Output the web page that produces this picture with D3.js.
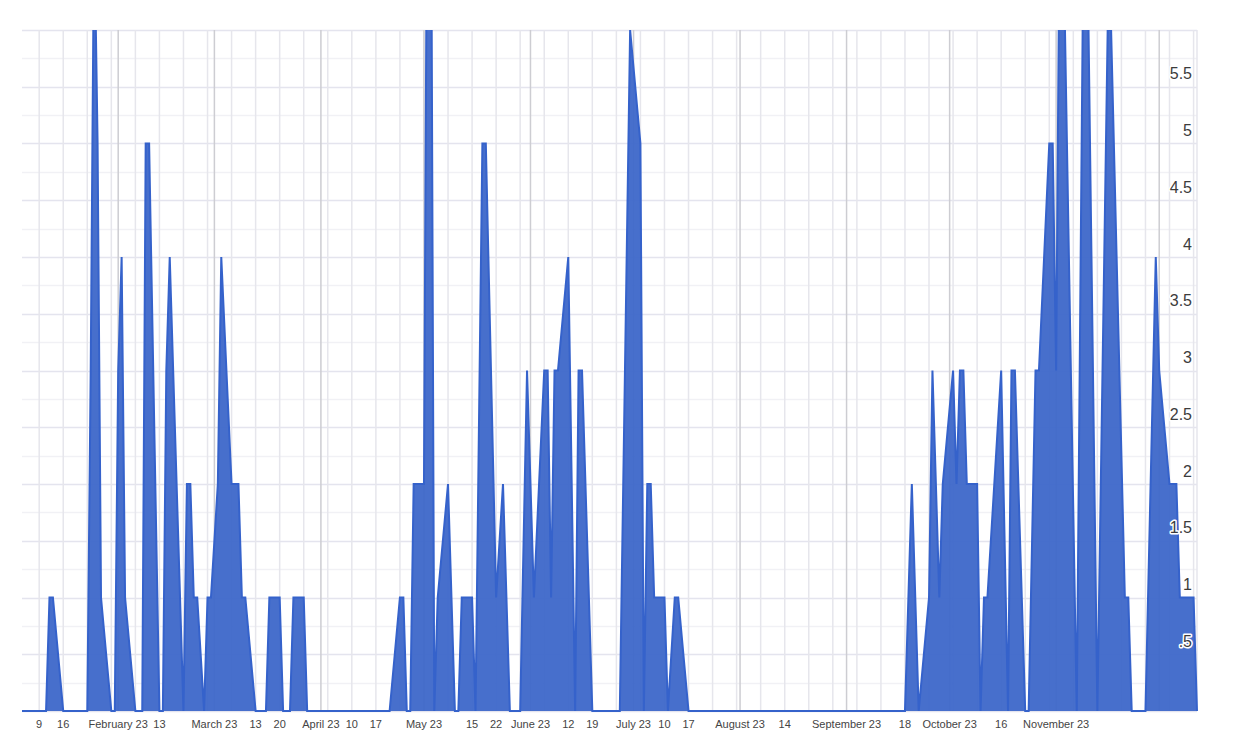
<!DOCTYPE html>
<html>
<head>
<meta charset="utf-8">
<script src="https://cdn.jsdelivr.net/npm/d3@7/dist/d3.min.js"></script>
<style>
  html, body { margin: 0; padding: 0; background: #fff; }
  svg { display: block; font-family: Arial, "Liberation Sans", sans-serif; }
</style>
</head>
<body>
<svg id="chart" width="1236" height="754"></svg>
<script>
// ---- data ----
const dates = [
  "2023-01-04","2023-01-11","2023-01-12","2023-01-13","2023-01-16","2023-01-23","2023-01-24","2023-01-25","2023-01-26","2023-01-27",
  "2023-01-30","2023-01-31","2023-02-01","2023-02-02","2023-02-03","2023-02-06","2023-02-08","2023-02-09","2023-02-10","2023-02-13",
  "2023-02-14","2023-02-15","2023-02-16","2023-02-20","2023-02-21","2023-02-22","2023-02-23","2023-02-24","2023-02-26","2023-02-27",
  "2023-02-28","2023-03-02","2023-03-03","2023-03-06","2023-03-07","2023-03-08","2023-03-09","2023-03-10","2023-03-13","2023-03-16",
  "2023-03-17","2023-03-20","2023-03-21","2023-03-23","2023-03-24","2023-03-27","2023-03-28","2023-04-21","2023-04-24","2023-04-25",
  "2023-04-26","2023-04-27","2023-04-28","2023-05-01","2023-05-02","2023-05-03","2023-05-04","2023-05-05","2023-05-08","2023-05-10",
  "2023-05-11","2023-05-12","2023-05-15","2023-05-16","2023-05-18","2023-05-19","2023-05-22","2023-05-24","2023-05-26","2023-05-29",
  "2023-05-31","2023-06-02","2023-06-05","2023-06-06","2023-06-07","2023-06-08","2023-06-09","2023-06-12","2023-06-14","2023-06-15",
  "2023-06-16","2023-06-19","2023-06-27","2023-06-30","2023-07-03","2023-07-04","2023-07-05","2023-07-06","2023-07-07","2023-07-10",
  "2023-07-11","2023-07-13","2023-07-14","2023-07-17","2023-09-18","2023-09-20","2023-09-22","2023-09-25","2023-09-26","2023-09-28",
  "2023-09-29","2023-10-02","2023-10-03","2023-10-04","2023-10-05","2023-10-06","2023-10-09","2023-10-10","2023-10-11","2023-10-12",
  "2023-10-16","2023-10-18","2023-10-19","2023-10-20","2023-10-23","2023-10-24","2023-10-26","2023-10-27","2023-10-30","2023-10-31",
  "2023-11-01","2023-11-02","2023-11-03","2023-11-07","2023-11-09","2023-11-10","2023-11-13","2023-11-16","2023-11-17","2023-11-21",
  "2023-11-22","2023-11-23","2023-11-27","2023-11-30","2023-12-01","2023-12-04","2023-12-06","2023-12-07","2023-12-11","2023-12-12"
];
const values = [
  0,0,1,1,0,0,3,7,5,1,
  0,0,3,4,1,0,0,5,5,0,
  0,3,4,0,2,2,1,1,0,1,
  1,2,4,2,2,2,1,1,0,0,
  1,1,0,0,1,1,0,0,1,1,
  0,0,2,2,8,8,0,1,2,0,
  0,1,1,0,5,5,1,2,0,0,
  3,1,3,3,1,3,3,4,0,3,
  3,0,0,6,5,0,2,2,1,1,
  0,1,1,0,0,2,0,1,3,1,
  2,3,2,3,3,2,2,0,1,1,
  3,0,3,3,0,0,3,3,5,5,
  3,7,7,0,7,7,0,6,6,1,
  1,0,0,4,3,2,2,1,1,0
];
const xDomain = ["2023-01-04", "2023-12-12"];
const yMax = 6;
const yTickValues = [0.5, 1, 1.5, 2, 2.5, 3, 3.5, 4, 4.5, 5, 5.5];
const yTickLabels = [".5", "1", "1.5", "2", "2.5", "3", "3.5", "4", "4.5", "5", "5.5"];
const xTickDates = [
  "2023-01-09","2023-01-16","2023-02-01","2023-02-13","2023-03-01","2023-03-13","2023-03-20","2023-04-01","2023-04-10","2023-04-17",
  "2023-05-01","2023-05-15","2023-05-22","2023-06-01","2023-06-12","2023-06-19","2023-07-01","2023-07-10","2023-07-17","2023-08-01",
  "2023-08-14","2023-09-01","2023-09-18","2023-10-01","2023-10-16","2023-11-01"
];
const xTickLabels = [
  "9","16","February 23","13","March 23","13","20","April 23","10","17",
  "May 23","15","22","June 23","12","19","July 23","10","17","August 23",
  "14","September 23","18","October 23","16","November 23"
];

// ---- chart ----
(function () {
  const W = 1236, H = 754;
  const pL = 22, pR = 1197, pT = 30, pB = 711;
  const parse = d3.utcParse("%Y-%m-%d");
  const data = dates.map((d, i) => ({ date: parse(d), value: values[i] }));

  const x = d3.scaleUtc().domain(xDomain.map(parse)).range([pL, pR]);
  const y = d3.scaleLinear().domain([0, yMax]).range([pB, pT]);

  const svg = d3.select("#chart");
  svg.append("rect").attr("width", W).attr("height", H).attr("fill", "#fff");

  svg.append("defs").append("clipPath").attr("id", "plotclip")
    .append("rect").attr("x", pL - 2).attr("y", pT).attr("width", pR - pL + 4).attr("height", pB - pT + 2);

  // horizontal gridlines every 0.25
  const grid = svg.append("g");
  d3.range(0, yMax + 0.001, 0.25).forEach(v => {
    const major = Math.abs(v * 2 - Math.round(v * 2)) < 1e-6;
    grid.append("line")
      .attr("x1", pL).attr("x2", pR)
      .attr("y1", Math.round(y(v)) + 0.5).attr("y2", Math.round(y(v)) + 0.5)
      .attr("stroke", major ? "#e4e4ee" : "#f1f1f5")
      .attr("stroke-width", 1.5);
  });

  // vertical gridlines: Mondays (light) and month starts (darker)
  const d0 = x.domain()[0], d1 = x.domain()[1];
  d3.utcMonday.range(d0, d1).forEach(d => {
    grid.append("line")
      .attr("x1", x(d)).attr("x2", x(d))
      .attr("y1", pT).attr("y2", pB)
      .attr("stroke", "#e6e6ec").attr("stroke-width", 1.5);
  });
  d3.utcMonth.range(d0, d1).forEach(d => {
    grid.append("line")
      .attr("x1", x(d)).attr("x2", x(d))
      .attr("y1", pT).attr("y2", pB)
      .attr("stroke", "#cdcdd2").attr("stroke-width", 1.5);
  });
  grid.append("line")
    .attr("x1", pR).attr("x2", pR).attr("y1", pT).attr("y2", pB)
    .attr("stroke", "#e6e6ec").attr("stroke-width", 1.5);

  // area + line
  const area = d3.area().x(d => x(d.date)).y0(y(0)).y1(d => y(d.value)).curve(d3.curveLinear);
  const line = d3.line().x(d => x(d.date)).y(d => y(d.value)).curve(d3.curveLinear);
  const plot = svg.append("g").attr("clip-path", "url(#plotclip)");
  plot.append("path").datum(data).attr("d", area)
    .attr("fill", "#3d67c9").attr("fill-opacity", 0.95);
  plot.append("path").datum(data).attr("d", line)
    .attr("fill", "none").attr("stroke", "#3562cb").attr("stroke-width", 2)
    .attr("stroke-linejoin", "miter");

  // y labels (inside, right)
  const yl = svg.append("g");
  yTickValues.forEach((v, i) => {
    yl.append("text")
      .attr("x", 1192).attr("y", y(v) - 7.5)
      .attr("text-anchor", "end")
      .attr("font-size", 16)
      .attr("fill", "#3c3c3c")
      .attr("stroke", "#fff").attr("stroke-width", 3).attr("paint-order", "stroke")
      .attr("stroke-linejoin", "round")
      .text(yTickLabels[i]);
  });

  // x labels
  const xl = svg.append("g");
  xTickDates.forEach((d, i) => {
    xl.append("text")
      .attr("x", x(parse(d))).attr("y", 728)
      .attr("text-anchor", "middle")
      .attr("font-size", 11)
      .attr("fill", "#444")
      .text(xTickLabels[i]);
  });
})();
</script>
</body>
</html>
